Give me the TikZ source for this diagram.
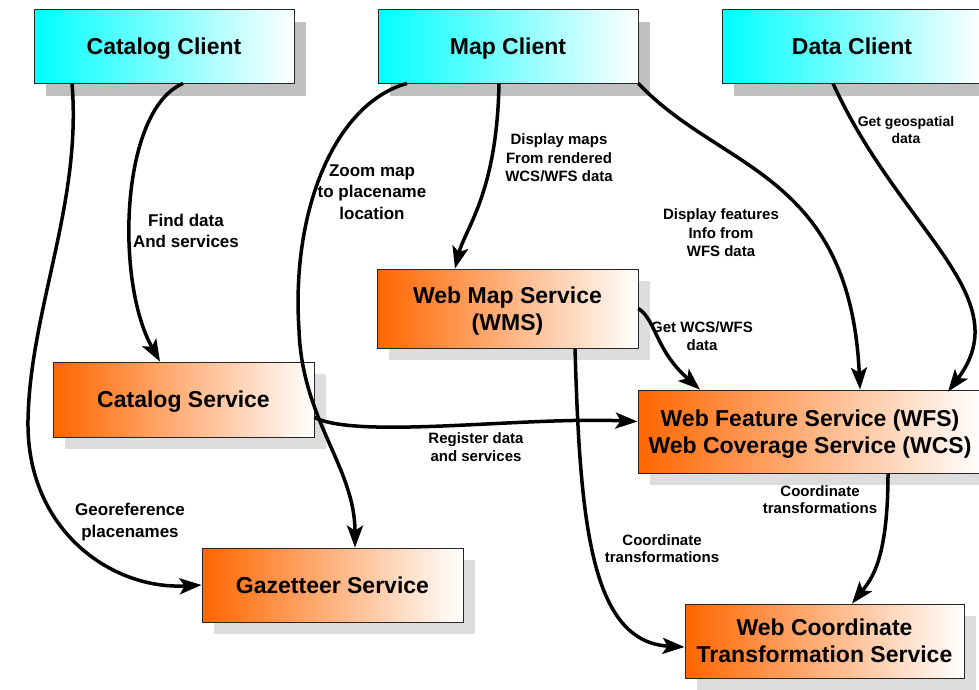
\documentclass[tikz,border=0pt]{standalone}
\usepackage{fontspec}
\setmainfont{Liberation Sans}
\usetikzlibrary{shadows,arrows.meta}

\definecolor{clientcyan}{RGB}{0,255,255}
\definecolor{svcorange}{RGB}{255,102,0}
\definecolor{clientshadow}{RGB}{192,192,192}
\definecolor{svcshadow}{RGB}{221,221,221}

\tikzset{
  box/.style={draw=black!85, line width=0.8pt, inner sep=0pt, align=center,
    minimum width=260pt, minimum height=74pt, text depth=0pt,
    font=\fontsize{23}{27}\selectfont\bfseries},
  client/.style={box, left color=clientcyan, right color=white,
    drop shadow={shadow xshift=12pt, shadow yshift=-13pt, fill=clientshadow, opacity=1}},
  service/.style={box, left color=svcorange, right color=white,
    drop shadow={shadow xshift=12pt, shadow yshift=-12pt, fill=svcshadow, opacity=1}},
  conn/.style={line width=3.5pt, -{Stealth[length=22pt,width=16pt,inset=5pt]}},
  lbl/.style={align=center, font=\fontsize{15}{18.5}\selectfont\bfseries},
  lblbig/.style={align=center, font=\fontsize{17}{21.5}\selectfont\bfseries}
}

\begin{document}
\begin{tikzpicture}[x=1pt,y=-1pt]
  \useasboundingbox (0,0) rectangle (979,689);

  % clients
  \node[client] (catclient)  at (164,46)   {Catalog Client};
  \node[client] (mapclient)  at (508,46)   {Map Client};
  \node[client] (dataclient) at (852,46)   {Data Client};

  % services
  \node[service, minimum width=261pt, minimum height=79pt] (wms) at (507.5,308.5) {Web Map Service\\(WMS)};
  \node[service, minimum width=261pt, minimum height=75pt] (catsvc) at (183.5,399.5) {Catalog Service};
  \node[service, minimum width=344pt, minimum height=83pt] (wfs) at (810,431.5)
    {Web Feature Service (WFS)\\Web Coverage Service (WCS)};
  \node[service, minimum width=261pt] (gaz) at (332.5,585) {Gazetteer Service};
  \node[service, minimum width=279pt] (wct) at (824.5,641) {Web Coordinate\\Transformation Service};

  % connectors
  \draw[conn] ([xshift=-92pt]catclient.south) .. controls +(10,120) and +(2,-110) .. (28,420)
    .. controls +(-2,110) and +(-90,5) .. (gaz.west);
  \draw[conn] ([xshift=19pt]catclient.south) .. controls +(-63,27) and +(-45,-80) .. ([xshift=-23.5pt]catsvc.north);
  \draw[conn] ([xshift=-101pt]mapclient.south) .. controls +(-72,20) and +(-8,-120) .. (299,330)
    .. controls +(3,90) and +(0,-80) .. ([xshift=22.5pt]gaz.north);
  \draw[conn] ([xshift=-9pt]mapclient.south) .. controls +(-2,110) and +(10,-40) .. ([xshift=-52.5pt]wms.north);
  \draw[conn] (mapclient.south east) .. controls +(82,87) and +(-10,-218) .. ([xshift=50pt]wfs.north);
  \draw[conn] ([xshift=-19pt]dataclient.south) .. controls +(67,147) and +(72,-95) .. ([xshift=138pt,yshift=-2pt]wfs.north);
  \draw[conn] (wms.east) .. controls +(18,12) and +(-45,-40) .. ([xshift=-110pt]wfs.north);
  \draw[conn] ([yshift=-18pt]catsvc.east) .. controls +(45,22) and +(-115,-5) .. ([yshift=10pt]wfs.west);
  \draw[conn] ([xshift=67.5pt]wms.south) .. controls +(5,170) and +(-95,-5) .. ([yshift=-6pt]wct.west);
  \draw[conn] ([xshift=78pt]wfs.south) .. controls +(0,85) and +(20,-25) .. ([xshift=27.5pt]wct.north);

  % labels
  \node[lblbig] (lfind)  at (186,231) {Find data\\And services};
  \node[lblbig] (lzoom)  at (372,192) {Zoom map\\to placename\\location};
  \node[lbl]    (lmaps)  at (559,158) {Display maps\\From rendered\\WCS/WFS data};
  \node[lbl]    (lfeat)  at (721,233) {Display features\\Info from\\WFS data};
  \node[lbl, font=\fontsize{14}{17}\selectfont\bfseries] (lgeo) at (906,130) {Get geospatial\\data};
  \node[lbl]    (lget)   at (702,336) {Get WCS/WFS\\data};
  \node[lbl]    (lreg)   at (476,447) {Register data\\and services};
  \node[lbl, font=\fontsize{15}{17}\selectfont\bfseries] (lcoord1) at (820,500) {Coordinate\\transformations};
  \node[lbl, font=\fontsize{15}{17}\selectfont\bfseries] (lcoord2) at (662,549) {Coordinate\\transformations};
  \node[lblbig] (lgeoref) at (130,522) {Georeference\\placenames};
\end{tikzpicture}
\end{document}
